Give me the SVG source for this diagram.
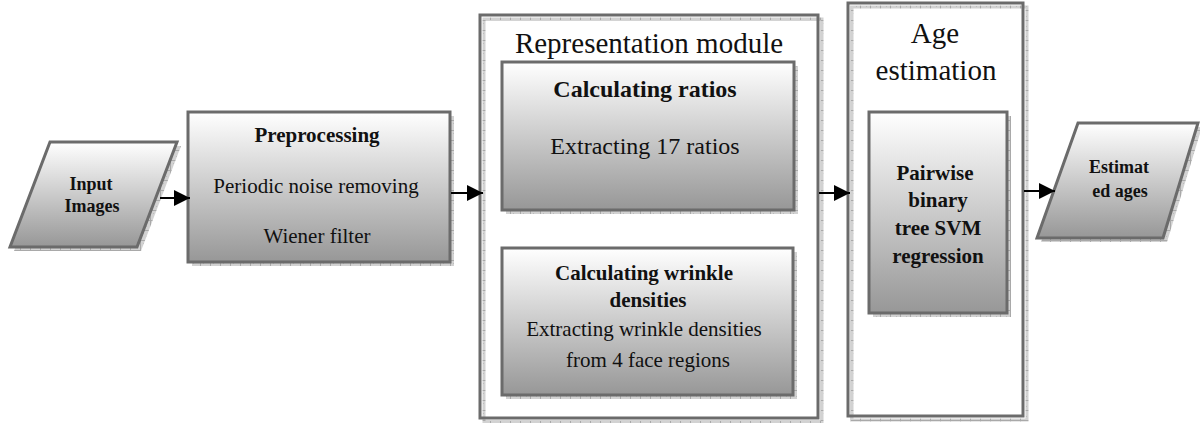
<svg xmlns="http://www.w3.org/2000/svg" width="1200" height="423" viewBox="0 0 1200 423">
  <defs>
    <linearGradient id="fade" x1="0" y1="0" x2="0" y2="1">
      <stop offset="0" stop-color="#ffffff"/>
      <stop offset="1" stop-color="#979797"/>
    </linearGradient>
    <!-- fine grey grid used for the drop shadows -->
    <pattern id="shade" width="10" height="10" patternUnits="userSpaceOnUse">
      <rect width="10" height="10" fill="#d2d2d2"/>
      <rect x="0" y="0" width="1" height="10" fill="#a9a9a9"/>
      <rect x="0" y="0" width="10" height="1" fill="#a9a9a9"/>
      <rect x="3" y="3" width="1" height="1" fill="#bbbbbb"/>
      <rect x="6" y="6" width="1" height="1" fill="#bbbbbb"/>
    </pattern>
    <marker id="head" viewBox="0 0 16 16" refX="16" refY="8" markerWidth="16" markerHeight="16" markerUnits="userSpaceOnUse" orient="auto">
      <path d="M0,0 L16,8 L0,16 Z" fill="#000"/>
    </marker>
  </defs>
  <style>
    .box { fill: url(#fade); stroke: #6b6b6b; stroke-width: 3; }
    .frame { fill: none; stroke: #6b6b6b; stroke-width: 3; }
    .shadow { fill: url(#shade); }
    .shadow-line { fill: none; stroke: url(#shade); stroke-width: 3; }
    .link { stroke: #000; stroke-width: 2; fill: none; marker-end: url(#head); }
    text { font-family: "Liberation Serif", "Times New Roman", serif; fill: #111; text-anchor: middle; }
    .b18 { font-size: 18px; font-weight: bold; }
    .b21 { font-size: 21px; font-weight: bold; }
    .r21 { font-size: 21px; }
    .b24 { font-size: 24px; font-weight: bold; }
    .r24 { font-size: 24px; }
    .t29 { font-size: 29px; }
  </style>

  <rect width="1200" height="423" fill="#ffffff"/>

  <g id="input-images">
    <polygon class="shadow" points="54,146 181,146 141,251 14,251"/>
    <polygon class="box" points="50,142 177,142 137,247 10,247"/>
    <text class="b18" x="91" y="190">Input</text>
    <text class="b18" x="92" y="212">Images</text>
  </g>

  <g id="preprocessing">
    <rect class="shadow" x="192" y="116" width="262" height="150"/>
    <rect class="box" x="188" y="112" width="262" height="150"/>
    <text class="b21" x="317" y="142">Preprocessing</text>
    <text class="r21" x="316" y="193">Periodic noise removing</text>
    <text class="r21" x="317" y="243">Wiener filter</text>
  </g>

  <g id="representation-module">
    <rect class="shadow-line" x="484" y="19" width="338" height="403"/>
    <rect class="frame" x="480" y="15" width="338" height="403" fill="#fff"/>
    <text class="t29" x="649" y="53">Representation module</text>
  </g>

  <g id="calculating-ratios">
    <rect class="shadow" x="506" y="66" width="292" height="148"/>
    <rect class="box" x="502" y="62" width="292" height="148"/>
    <text class="b24" x="645" y="97">Calculating ratios</text>
    <text class="r24" x="645" y="154">Extracting 17 ratios</text>
  </g>

  <g id="wrinkle-densities">
    <rect class="shadow" x="506" y="252" width="291" height="147"/>
    <rect class="box" x="502" y="248" width="291" height="147"/>
    <text class="b21" x="644" y="280">Calculating wrinkle</text>
    <text class="b21" x="648" y="307">densities</text>
    <text class="r21" x="644" y="336">Extracting wrinkle densities</text>
    <text class="r21" x="648" y="367">from 4 face regions</text>
  </g>

  <g id="age-estimation">
    <rect class="shadow-line" x="852" y="7" width="175" height="413"/>
    <rect class="frame" x="848" y="3" width="175" height="413"/>
    <text class="t29" x="935" y="43">Age</text>
    <text class="t29" x="936" y="80">estimation</text>
  </g>

  <g id="svm-regression">
    <rect class="shadow" x="873" y="116" width="138" height="201"/>
    <rect class="box" x="869" y="112" width="138" height="201"/>
    <text class="b21" x="935" y="180">Pairwise</text>
    <text class="b21" x="938" y="207">binary</text>
    <text class="b21" x="938" y="235">tree SVM</text>
    <text class="b21" x="938" y="263">regression</text>
  </g>

  <g id="estimated-ages">
    <polygon class="shadow" points="1082,127 1202,127 1167,242 1041,242"/>
    <polygon class="box" points="1078,123 1198,123 1163,238 1037,238"/>
    <text class="b18" x="1119" y="173">Estimat</text>
    <text class="b18" x="1120" y="197">ed ages</text>
  </g>

  <g id="connectors">
    <line class="link" x1="160" y1="198" x2="190" y2="198"/>
    <line class="link" x1="451" y1="193" x2="483" y2="193"/>
    <line class="link" x1="819" y1="193" x2="850" y2="193"/>
    <line class="link" x1="1024" y1="191" x2="1055" y2="191"/>
  </g>
</svg>
